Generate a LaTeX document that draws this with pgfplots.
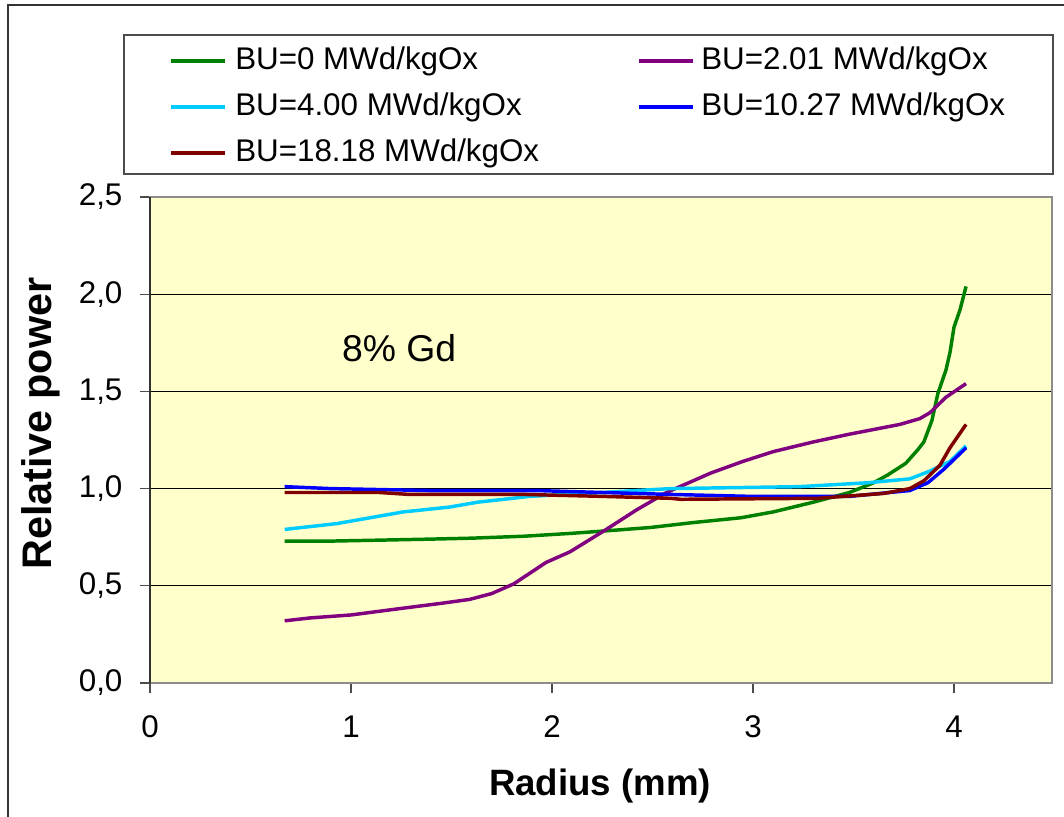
\documentclass[border=0pt]{standalone}
\usepackage{fontspec}
\setmainfont{Liberation Sans}
\usepackage{pgfplots}
\pgfplotsset{compat=1.18}
\definecolor{bgyellow}{HTML}{FFFFCC}
\definecolor{cgreen}{HTML}{008000}
\definecolor{cpurple}{HTML}{800080}
\definecolor{ccyan}{HTML}{00CCFF}
\definecolor{cblue}{HTML}{0000FF}
\definecolor{cdred}{HTML}{800000}
\begin{document}
\begin{tikzpicture}
\useasboundingbox (-112.5pt,-100.5pt) rectangle (685.5pt,512.25pt);
\draw[line width=1pt, black!80] (-106.5pt,-100.5pt) -- (-106.5pt,508.5pt) -- (685.5pt,508.5pt);
\draw[line width=1pt, black!70, fill=white] (-19.5pt,381.75pt) rectangle (677.25pt,486pt);
\begin{axis}[
  at={(0pt,0pt)}, anchor=origin,
  scale only axis,
  width=676.5pt, height=364.5pt,
  xmin=0, xmax=4.4876, ymin=0, ymax=2.5,
  xtick={0,1,2,3,4}, ytick={0,0.5,1,1.5,2,2.5},
  xtick pos=left, ytick pos=left,
  tick align=outside,
  major tick length=7.5pt,
  tick style={black!70, line width=0.8pt},
  axis line style={draw=black!45, line width=1pt},
  axis background/.style={fill=bgyellow},
  ymajorgrids,
  major grid style={black, line width=0.8pt},
  extra x ticks={0}, extra x tick labels={},
  extra x tick style={grid=major, major grid style={black!80, line width=1pt}},
  /pgf/number format/assume math mode=true,
  yticklabel={\pgfmathprintnumber[fixed, fixed zerofill, precision=1, use comma]{\tick}},
  tick label style={font=\fontsize{23.5}{27}\selectfont, inner sep=0pt},
  yticklabel shift=13pt,
  xticklabel shift=17pt,
  ylabel={\bfseries Relative power},
  xlabel={\bfseries Radius (mm)},
  label style={font=\fontsize{27.5}{32}\selectfont},
  ylabel style={at={(axis description cs:-0.1208,0.534)}, anchor=center, rotate=0, font=\fontsize{31}{36}\selectfont},
  xlabel style={at={(axis description cs:0.499,-0.212)}, anchor=center},
  legend columns=2,
  legend cell align=left,
  legend image code/.code={\draw[#1, line width=3pt] (0pt,-1.5pt) -- (40.5pt,-1.5pt);},
  legend style={
    at={(axis description cs:-0.0288,1.3333)}, anchor=north west,
    draw=none, fill=none,
    font=\fontsize{23.5}{27}\selectfont,
    inner xsep=33.75pt, inner ysep=8.75pt,
    row sep=16pt,
    nodes={inner sep=0pt},
    /tikz/every odd column/.append style={column sep=6pt},
  },
  every axis plot/.append style={line width=2.6pt, line join=round},
]
\addplot[cgreen] coordinates {
(0.67,0.73) (0.90,0.73) (1.15,0.735) (1.39,0.74) (1.60,0.745) (1.86,0.755)
(2.10,0.77) (2.30,0.785) (2.49,0.80) (2.70,0.825) (2.94,0.85) (3.10,0.88)
(3.30,0.93) (3.48,0.98) (3.60,1.03) (3.67,1.07) (3.76,1.13) (3.82,1.20)
(3.85,1.24) (3.89,1.35) (3.92,1.49) (3.96,1.61) (3.98,1.70) (4.00,1.83) (4.03,1.92) (4.06,2.04)};
\addlegendentry{\parbox[b]{301.5pt}{BU=0 MWd/kgOx}}
\addplot[cpurple] coordinates {
(0.67,0.32) (0.80,0.335) (1.00,0.35) (1.26,0.385) (1.45,0.41) (1.59,0.43)
(1.70,0.46) (1.81,0.51) (1.97,0.62) (2.09,0.675) (2.27,0.79) (2.42,0.89)
(2.57,0.98) (2.79,1.08) (2.95,1.14) (3.10,1.19) (3.30,1.24) (3.48,1.28)
(3.73,1.33) (3.83,1.36) (3.88,1.39) (3.96,1.47) (4.06,1.54)};
\addlegendentry{\parbox[b]{229.5pt}{\hspace*{-1.5pt}BU=2.01 MWd/kgOx}}
\addplot[ccyan] coordinates {
(0.67,0.79) (0.93,0.82) (1.26,0.88) (1.49,0.905) (1.63,0.93) (1.89,0.96)
(2.25,0.98) (2.59,1.00) (3.23,1.01) (3.57,1.03) (3.78,1.05) (3.88,1.09)
(3.98,1.14) (4.06,1.22)};
\addlegendentry{\parbox[b]{301.5pt}{BU=4.00 MWd/kgOx}}
\addplot[cblue] coordinates {
(0.67,1.01) (0.90,1.00) (1.39,0.99) (1.92,0.99) (2.25,0.98) (2.59,0.97)
(2.99,0.96) (3.48,0.96) (3.78,0.99) (3.87,1.03) (3.95,1.10) (4.01,1.16) (4.06,1.21)};
\addlegendentry{\parbox[b]{229.5pt}{\hspace*{-1.5pt}BU=10.27 MWd/kgOx}}
\addplot[cdred] coordinates {
(0.67,0.98) (1.14,0.98) (1.29,0.97) (1.86,0.97) (2.25,0.96) (2.59,0.95)
(2.64,0.945) (3.32,0.95) (3.65,0.975) (3.78,1.00) (3.85,1.04) (3.93,1.12)
(3.98,1.21) (4.06,1.33)};
\addlegendentry{\parbox[b]{301.5pt}{BU=18.18 MWd/kgOx}}
\node[anchor=base west, font=\fontsize{28}{33}\selectfont, inner sep=0pt] at (axis cs:0.954,1.653) {8\% Gd};
\end{axis}
\end{tikzpicture}
\end{document}
